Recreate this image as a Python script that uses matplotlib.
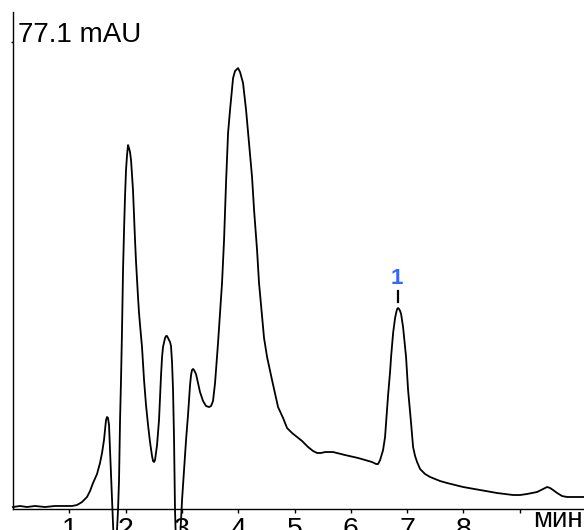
import matplotlib
matplotlib.use("Agg")
import matplotlib.pyplot as plt

# Chromatogram trace (time in min, absorbance in mAU)
time_min = [0.000, 0.124, 0.249, 0.391, 0.568, 0.746, 0.924, 1.048, 1.137, 1.226,
            1.314, 1.368, 1.421, 1.492, 1.545, 1.581, 1.616, 1.634, 1.652, 1.670,
            1.687, 1.705, 1.723, 1.741, 1.758, 1.776, 1.794, 1.812, 1.829, 1.847,
            1.865, 1.883, 1.901, 1.918, 1.936, 1.954, 1.972, 1.989, 2.007, 2.025,
            2.043, 2.060, 2.078, 2.096, 2.114, 2.131, 2.149, 2.167, 2.185, 2.202,
            2.220, 2.238, 2.256, 2.291, 2.327, 2.362, 2.398, 2.433, 2.469, 2.487,
            2.504, 2.522, 2.558, 2.593, 2.629, 2.647, 2.664, 2.700, 2.718, 2.735,
            2.753, 2.789, 2.806, 2.824, 2.842, 2.860, 2.877, 2.895, 2.931, 2.966,
            2.984, 3.002, 3.037, 3.073, 3.108, 3.144, 3.162, 3.179, 3.197, 3.215,
            3.250, 3.286, 3.321, 3.375, 3.428, 3.481, 3.517, 3.552, 3.588, 3.641,
            3.677, 3.712, 3.748, 3.783, 3.819, 3.854, 3.890, 3.908, 3.943, 3.961,
            3.996, 4.032, 4.085, 4.139, 4.192, 4.245, 4.281, 4.334, 4.369, 4.423,
            4.458, 4.512, 4.600, 4.707, 4.796, 4.867, 4.956, 5.044, 5.133, 5.240,
            5.329, 5.400, 5.471, 5.542, 5.684, 5.897, 6.128, 6.377, 6.448, 6.483,
            6.519, 6.572, 6.607, 6.625, 6.661, 6.696, 6.714, 6.750, 6.785, 6.803,
            6.821, 6.838, 6.856, 6.874, 6.892, 6.927, 6.980, 7.016, 7.069, 7.105,
            7.140, 7.176, 7.229, 7.318, 7.407, 7.584, 7.709, 7.993, 8.295, 8.597,
            8.881, 9.005, 9.130, 9.307, 9.414, 9.485, 9.538, 9.591, 9.663, 9.751,
            9.840, 10.142]
absorb_mau = [0.00, 0.17, 0.00, 0.17, 0.00, 0.17, 0.17, 0.17, 0.33, 0.83,
              1.66, 2.65, 3.98, 5.47, 7.30, 8.96, 11.11, 12.77, 14.43, 14.93,
              14.76, 13.60, 9.45, 5.31, 1.16, -2.99, -6.30, -7.13, -6.30, -3.81,
              -0.50, 4.48, 14.43, 21.06, 29.35, 39.30, 45.94, 51.41, 55.89, 58.37,
              60.03, 59.53, 58.87, 57.55, 55.06, 52.57, 48.42, 44.28, 40.63, 37.65,
              34.83, 32.17, 30.18, 26.53, 21.06, 16.92, 13.60, 10.78, 8.46, 7.63,
              7.46, 7.79, 10.28, 14.43, 21.89, 24.88, 26.53, 28.03, 28.36, 28.36,
              28.03, 27.36, 26.70, 24.05, 19.40, 11.11, -0.50, -6.30, -7.13, -5.47,
              -2.16, 1.16, 6.14, 11.11, 15.26, 20.23, 21.89, 22.72, 22.89, 22.72,
              22.06, 20.56, 19.07, 17.58, 16.75, 16.58, 16.75, 17.58, 20.56, 27.20,
              32.17, 37.15, 44.28, 53.73, 62.02, 65.84, 69.49, 71.14, 72.31, 72.47,
              72.80, 72.14, 70.32, 65.84, 60.36, 54.73, 49.25, 42.62, 37.15, 31.51,
              28.03, 24.88, 21.06, 16.58, 14.76, 13.10, 12.27, 11.61, 10.95, 9.95,
              9.29, 8.96, 8.96, 9.12, 9.12, 8.62, 8.13, 7.46, 7.13, 7.13,
              7.79, 9.45, 11.61, 13.93, 18.57, 22.39, 24.88, 28.86, 31.34, 32.17,
              32.84, 33.00, 32.84, 32.51, 32.01, 29.85, 24.88, 19.40, 13.93, 9.95,
              8.46, 7.46, 6.30, 5.47, 4.98, 4.31, 3.98, 3.32, 2.82, 2.32,
              1.99, 1.99, 2.16, 2.49, 2.99, 3.32, 3.15, 2.82, 2.32, 1.82,
              1.66, 1.66]

x_ticks = [1, 2, 3, 4, 5, 6, 7, 8, 9]
x_tick_labels = ["1", "2", "3", "4", "5", "6", "7", "8", ""]
y_max_label = 77.1
peak_names = ["1"]
peak_times = [6.84]
peak_heights = [33.0]

W, H = 584, 530
plt.rcParams['font.family'] = ['Liberation Sans', 'DejaVu Sans']
fig = plt.figure(figsize=(W / 100, H / 100), dpi=100)

left_px, right_px, top_px, bottom_px = 13, 584, 12, 509
ax = fig.add_axes([left_px / W, (H - bottom_px) / H,
                   (right_px - left_px) / W, (bottom_px - top_px) / H])

ax.plot(time_min, absorb_mau, color='black', lw=1.3, clip_on=False,
        solid_joinstyle='round')

ax.set_xlim(0, 10.14)
ax.set_ylim(-0.33, 82.1)

for s in ['top', 'right']:
    ax.spines[s].set_visible(False)
for s in ['left', 'bottom']:
    ax.spines[s].set_linewidth(1.0)

ax.set_xticks(x_ticks)
ax.set_xticklabels(x_tick_labels)
ax.tick_params(axis='x', direction='out', length=3, width=1.0, pad=2.5,
               labelsize=20.5)
ax.set_yticks([y_max_label])
ax.set_yticklabels([])
ax.tick_params(axis='y', direction='out', length=1.5, width=1.0)

ax.text(0.09, y_max_label, f"{y_max_label} mAU", fontsize=20,
        ha='left', va='baseline')

fig.text(0.998, 0.0057, "мин", fontsize=20, ha='right', va='baseline')

for name, t, h in zip(peak_names, peak_times, peak_heights):
    ax.plot([t, t], [h + 1.0, h + 2.8], color='black', lw=1.6)
    ax.text(t - 0.03, h + 4.0, name, color='#3366ff', fontsize=16,
            fontweight='bold', ha='center', va='baseline')

fig.savefig("out.png", dpi=100)
